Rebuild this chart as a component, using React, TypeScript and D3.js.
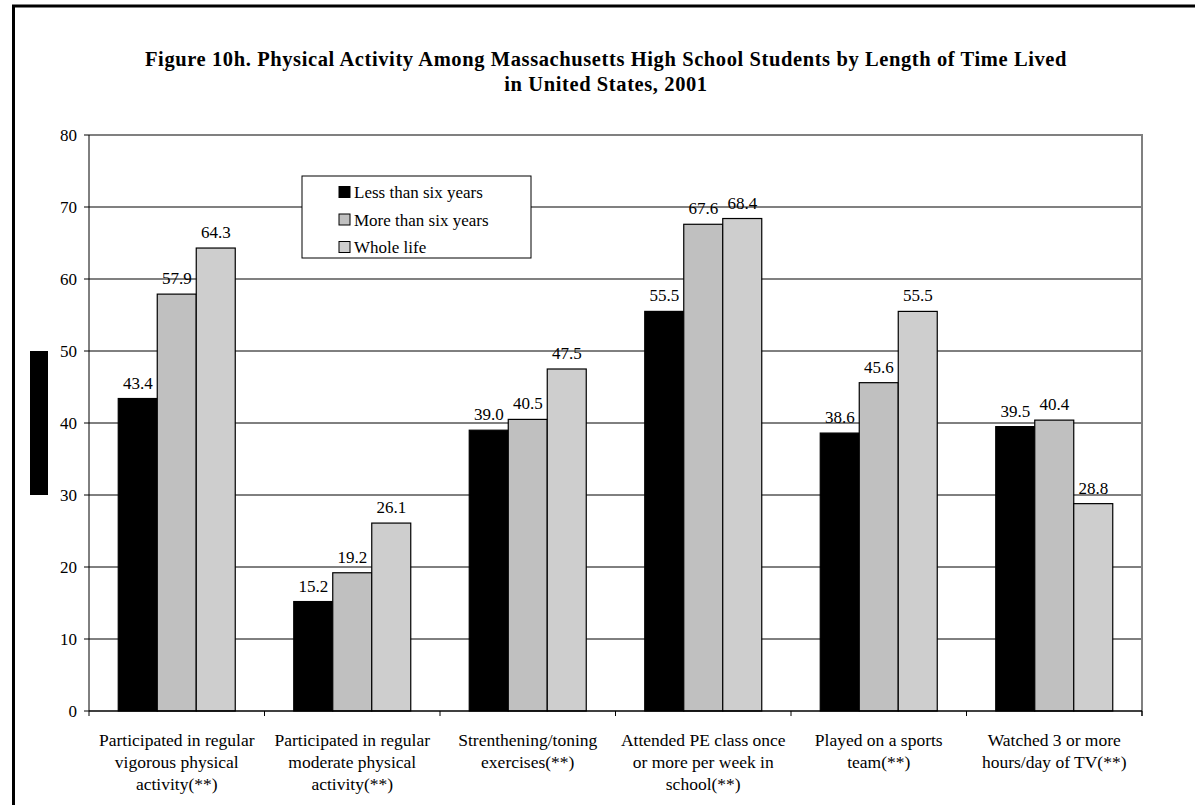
import React from "react";
import * as d3 from "d3";

const categories = [
  "Participated in regular vigorous physical activity(**)",
  "Participated in regular moderate physical activity(**)",
  "Strenthening/toning exercises(**)",
  "Attended PE class once or more per week in school(**)",
  "Played on a sports team(**)",
  "Watched 3 or more hours/day of TV(**)",
];
const categoryLines = [
  ["Participated in regular", "vigorous physical", "activity(**)"],
  ["Participated in regular", "moderate physical", "activity(**)"],
  ["Strenthening/toning", "exercises(**)"],
  ["Attended PE class once", "or more per week in", "school(**)"],
  ["Played on a sports", "team(**)"],
  ["Watched 3 or more", "hours/day of TV(**)"],
];
const seriesNames = ["Less than six years", "More than six years", "Whole life"];
const lessThanSix = [43.4, 15.2, 39.0, 55.5, 38.6, 39.5];
const moreThanSix = [57.9, 19.2, 40.5, 67.6, 45.6, 40.4];
const wholeLife = [64.3, 26.1, 47.5, 68.4, 55.5, 28.8];
const seriesValues = [lessThanSix, moreThanSix, wholeLife];
const seriesColors = ["#000000", "#C0C0C0", "#CECECE"];
const yTicks = [0, 10, 20, 30, 40, 50, 60, 70, 80];
const titleLines = [
  "Figure 10h. Physical Activity Among Massachusetts High School Students by Length of Time Lived",
  "in United States, 2001",
];

const W = 1195;
const H = 805;
const FONT = "'Liberation Serif', 'Times New Roman', serif";

export default function App() {
  const left = 89;
  const right = 1142;
  const top = 135;
  const bottom = 711;

  const x = d3
    .scaleBand<string>()
    .domain(categories)
    .range([left, right])
    .paddingInner(1 / 3)
    .paddingOuter(1 / 6);
  const xs = d3
    .scaleBand<number>()
    .domain([0, 1, 2])
    .range([0, x.bandwidth()])
    .padding(0);
  const y = d3.scaleLinear().domain([0, 80]).range([bottom, top]);

  const step = x.step();
  const boundaries = d3.range(categories.length + 1).map((i) => left + i * step);

  return (
    <svg
      width={W}
      height={H}
      style={{ position: "absolute", left: 0, top: 0, background: "#fff" }}
      fontFamily={FONT}
    >
      <rect x={0} y={0} width={W} height={H} fill="#fff" />
      {/* outer frame */}
      <line x1={13.5} y1={6} x2={13.5} y2={H + 5} stroke="#000" strokeWidth={3} />
      <line x1={12} y1={6} x2={W + 5} y2={6} stroke="#000" strokeWidth={3} />

      {/* title */}
      {titleLines.map((t, i) => (
        <text
          key={i}
          x={606}
          y={66 + i * 25}
          textAnchor="middle"
          fontWeight="bold"
          fontSize={20.5}
          letterSpacing={0.6}
          fill="#000"
        >
          {t}
        </text>
      ))}

      {/* gridlines */}
      {yTicks
        .filter((t) => t > 0)
        .map((t) => (
          <line
            key={t}
            x1={left}
            x2={right}
            y1={y(t)}
            y2={y(t)}
            stroke={t >= 60 ? "#808080" : "#000"}
            strokeWidth={t >= 60 ? 2 : 1}
          />
        ))}
      {/* right border */}
      <line x1={right} x2={right} y1={top - 1} y2={bottom + 5} stroke="#808080" strokeWidth={2} />

      {/* bars */}
      {seriesValues.map((vals, s) =>
        vals.map((v, i) => {
          const bx = (x(categories[i]) as number) + (xs(s) as number);
          return (
            <rect
              key={`${s}-${i}`}
              x={bx}
              y={y(v)}
              width={xs.bandwidth()}
              height={y(0) - y(v)}
              fill={seriesColors[s]}
              stroke="#000"
              strokeWidth={1.2}
            />
          );
        })
      )}

      {/* value labels */}
      {seriesValues.map((vals, s) =>
        vals.map((v, i) => {
          const cx = (x(categories[i]) as number) + (xs(s) as number) + xs.bandwidth() / 2;
          return (
            <text
              key={`l${s}-${i}`}
              x={cx}
              y={y(v) - 10}
              textAnchor="middle"
              fontSize={17}
              fill="#000"
            >
              {v.toFixed(1)}
            </text>
          );
        })
      )}

      {/* y axis */}
      <line x1={left} x2={left} y1={top} y2={bottom} stroke="#000" strokeWidth={1} />
      {yTicks.map((t) => (
        <g key={`yt${t}`}>
          <line x1={left - 5} x2={left} y1={y(t)} y2={y(t)} stroke="#000" strokeWidth={1} />
          <text x={77} y={y(t) + 6} textAnchor="end" fontSize={17} fill="#000">
            {t}
          </text>
        </g>
      ))}

      {/* x axis */}
      <line x1={left} x2={right} y1={bottom} y2={bottom} stroke="#000" strokeWidth={1.5} />
      {boundaries.map((bx, i) => (
        <line key={`xt${i}`} x1={bx} x2={bx} y1={bottom} y2={bottom + 5} stroke="#000" strokeWidth={1} />
      ))}
      {categoryLines.map((lines, i) => {
        const cx = (x(categories[i]) as number) + x.bandwidth() / 2;
        return (
          <text key={`c${i}`} textAnchor="middle" fontSize={17.5} fill="#000">
            {lines.map((ln, j) => (
              <tspan key={j} x={cx} y={746 + j * 22}>
                {ln}
              </tspan>
            ))}
          </text>
        );
      })}

      {/* black marker on left */}
      <rect x={30} y={y(50)} width={18} height={y(30) - y(50)} fill="#000" />

      {/* legend */}
      <rect x={302} y={176} width={229} height={82} fill="#fff" stroke="#000" strokeWidth={1} />
      {seriesNames.map((name, i) => {
        const cy = 192 + i * 27.5;
        return (
          <g key={name}>
            <rect
              x={339}
              y={cy - 5.5}
              width={11}
              height={11}
              fill={seriesColors[i]}
              stroke="#000"
              strokeWidth={1}
            />
            <text x={354} y={cy + 6} fontSize={17} fill="#000">
              {name}
            </text>
          </g>
        );
      })}
    </svg>
  );
}
